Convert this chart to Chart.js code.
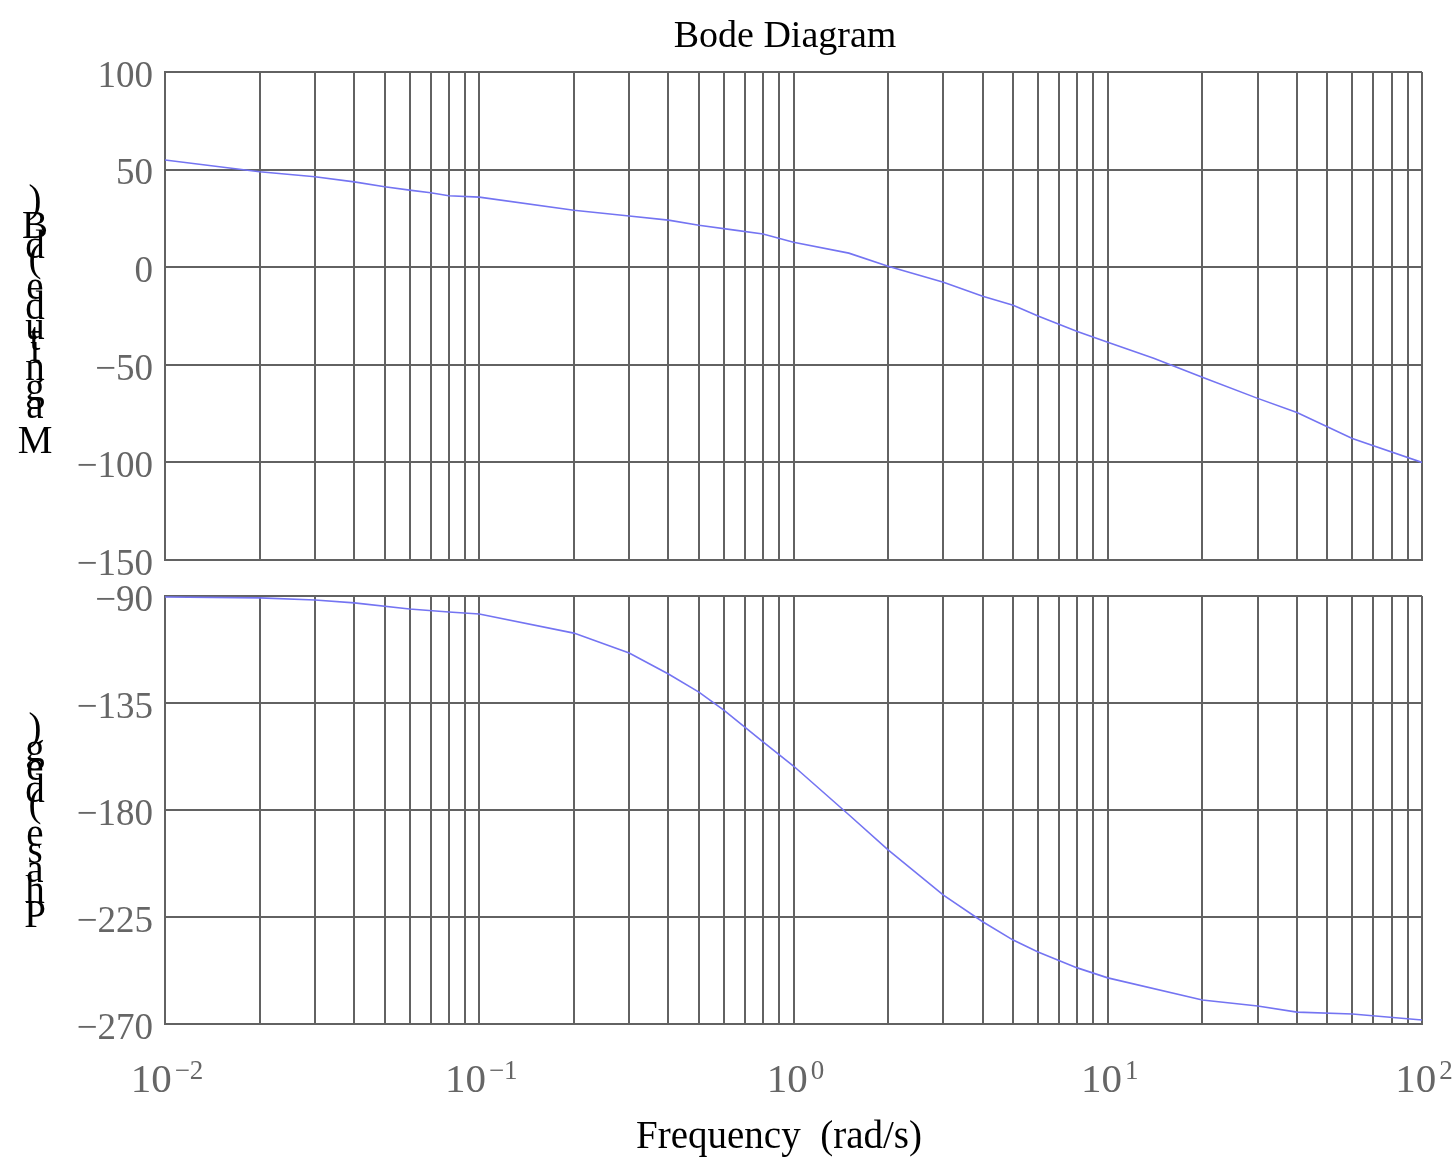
<!DOCTYPE html>
<html>
<head>
<meta charset="utf-8">
<script src="https://cdn.jsdelivr.net/npm/chart.js@4.4.1/dist/chart.umd.min.js"></script>
<style>
html,body{margin:0;padding:0;background:#fff;width:1456px;height:1160px;overflow:hidden;position:relative}
canvas{position:absolute;left:0}
#cMag{top:0}
#cPh{top:540px}
</style>
</head>
<body>
<canvas id="cMag" width="1456" height="620"></canvas>
<canvas id="cPh" width="1456" height="620"></canvas>
<script>
// ---- data ----
const titleText = 'Bode Diagram';
const xLabelText = 'Frequency  (rad/s)';
const magLabelText = 'Magnitude (dB)';
const phaseLabelText = 'Phase (deg)';

const freqMag = [0.01,0.02,0.03,0.04,0.05,0.06,0.07,0.08,0.1,0.2,0.3,0.4,0.5,0.65,0.8,1,1.5,2,3,4,5,6,8,10,14,20,30,40,60,100];
const magDb   = [54.9,48.9,46.3,43.7,41.2,39.5,38.1,36.6,35.9,29.2,26.2,24.1,21.5,19,17,12.8,7.2,0.5,-7.7,-14.9,-19.5,-25,-33,-38.5,-46.7,-56.4,-67.2,-74.4,-87.7,-100];

const freqPh  = [0.01,0.02,0.03,0.04,0.06,0.08,0.1,0.2,0.3,0.4,0.5,0.6,0.8,1,1.5,2,3,4,5,6,8,10,20,30,40,60,100];
const phaseDeg= [-90.4,-90.8,-91.7,-92.9,-95.5,-96.7,-97.6,-105.6,-114,-122.8,-130.4,-138,-151.4,-161.5,-182,-196.8,-215.8,-227,-234.7,-239.7,-246.4,-250.6,-259.9,-262.4,-265,-265.8,-268.3];

const magTicks = [100,50,0,-50,-100,-150];
const phaseTicks = [-90,-135,-180,-225,-270];
const decadeValues = [0.01,0.1,1,10,100];
const decadeExps = ['−2','−1','0','1','2'];
const xGridValues = [0.01,0.02,0.03,0.04,0.05,0.06,0.07,0.08,0.09,
                     0.1,0.2,0.3,0.4,0.5,0.6,0.7,0.8,0.9,
                     1,2,3,4,5,6,7,8,9,
                     10,20,30,40,50,60,70,80,90,100];

// ---- styles ----
const GRID = '#626262';
const TICKC = '#666666';
const LINEC = '#7474f2';
const SERIF = '"Liberation Serif", "Times New Roman", serif';

function fmtNum(v){ return v < 0 ? '\u2212' + Math.abs(v) : String(v); }

function stackedLabel(ctx, text, x, yStart, yEnd, size){
  ctx.save();
  ctx.font = size + 'px ' + SERIF;
  ctx.fillStyle = '#000';
  ctx.textAlign = 'center';
  ctx.textBaseline = 'alphabetic';
  const chars = [...text];
  const w = chars.map(c => ctx.measureText(c).width);
  const total = w.slice(0, -1).reduce((a,b)=>a+b, 0);
  const k = (yStart - yEnd) / total;
  let y = yStart;
  chars.forEach((c,i)=>{ ctx.fillText(c, x, y); y -= w[i]*k; });
  ctx.restore();
}

function xScale(){
  return {
    type:'logarithmic', min:0.01, max:100,
    afterBuildTicks: s => { s.ticks = xGridValues.map(v=>({value:v})); },
    afterFit: s => { s.height = 0; },
    ticks:{display:false, autoSkip:false},
    grid:{color:GRID, lineWidth:2, drawTicks:false},
    border:{display:true, color:GRID, width:2}
  };
}
function yScale(min, max, ticks){
  return {
    min, max,
    afterBuildTicks: s => { s.ticks = ticks.map(v=>({value:v})); },
    afterFit: s => { s.width = 165; },
    ticks:{
      autoSkip:false, padding:12, labelOffset:5, color:TICKC,
      font:{family:SERIF, size:37},
      callback: v => fmtNum(v)
    },
    grid:{color:GRID, lineWidth:2, drawTicks:false},
    border:{display:true, color:GRID, width:2}
  };
}

const magPlugin = {
  id:'magDeco',
  afterDraw(chart){
    const ctx = chart.ctx;
    ctx.save();
    ctx.font = '38px ' + SERIF;
    ctx.fillStyle = '#000';
    ctx.textAlign = 'center';
    ctx.textBaseline = 'alphabetic';
    ctx.fillText(titleText, 785, 47);
    ctx.restore();
    stackedLabel(ctx, magLabelText, 35, 453, 212, 39);
  }
};

const phPlugin = {
  id:'phDeco',
  afterDraw(chart){
    const ctx = chart.ctx;
    const xs = chart.scales.x;
    ctx.save();
    ctx.fillStyle = TICKC;
    ctx.textBaseline = 'alphabetic';
    ctx.textAlign = 'left';
    decadeValues.forEach((v,i)=>{
      const px = xs.getPixelForValue(v);
      ctx.font = '41px ' + SERIF;
      const wb = ctx.measureText('10').width;
      ctx.font = '27px ' + SERIF;
      const ws = ctx.measureText(decadeExps[i]).width;
      const total = wb + 3 + ws;
      const x0 = px - total/2 + 2;
      ctx.font = '41px ' + SERIF;
      ctx.fillText('10', x0, 552);
      ctx.font = '27px ' + SERIF;
      ctx.fillText(decadeExps[i], x0 + wb + 3, 539);
    });
    ctx.font = '39px ' + SERIF;
    ctx.fillStyle = '#000';
    ctx.textAlign = 'center';
    ctx.fillText(xLabelText, 779, 608);
    ctx.restore();
    stackedLabel(ctx, phaseLabelText, 35, 387, 200, 39);
  }
};

const common = {
  responsive:false, animation:false, devicePixelRatio:1,
  plugins:{legend:{display:false}, tooltip:{enabled:false}, title:{display:false}},
};

new Chart(document.getElementById('cMag'), {
  type:'line',
  data:{datasets:[{
    data: freqMag.map((f,i)=>({x:f, y:magDb[i]})),
    borderColor:LINEC, borderWidth:1.6, pointRadius:0, fill:false, tension:0
  }]},
  options:Object.assign({}, common, {
    layout:{autoPadding:false, padding:{left:0, right:34, top:72, bottom:60}},
    scales:{x:xScale(), y:yScale(-150, 100, magTicks)}
  }),
  plugins:[magPlugin]
});

new Chart(document.getElementById('cPh'), {
  type:'line',
  data:{datasets:[{
    data: freqPh.map((f,i)=>({x:f, y:phaseDeg[i]})),
    borderColor:LINEC, borderWidth:1.6, pointRadius:0, fill:false, tension:0
  }]},
  options:Object.assign({}, common, {
    layout:{autoPadding:false, padding:{left:0, right:34, top:56, bottom:136}},
    scales:{x:xScale(), y:yScale(-270, -90, phaseTicks)}
  }),
  plugins:[phPlugin]
});
</script>
</body>
</html>
